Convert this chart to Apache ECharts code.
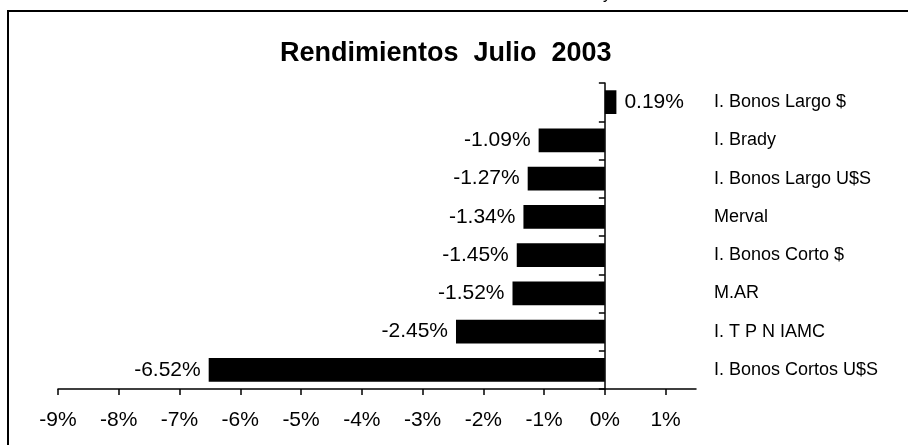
<!DOCTYPE html>
<html>
<head>
<meta charset="utf-8">
<script src="https://cdn.jsdelivr.net/npm/echarts@6/dist/echarts.min.js"></script>
<style>
  html, body { margin: 0; padding: 0; background: #fff; }
  #chart { width: 908px; height: 445px; }
</style>
</head>
<body>
<div id="chart"></div>
<script>
// datos, de arriba hacia abajo
const categories = ['I. Bonos Largo $', 'I. Brady', 'I. Bonos Largo U$S', 'Merval',
  'I. Bonos Corto $', 'M.AR', 'I. T P N IAMC', 'I. Bonos Cortos U$S']
const rendimientos = [0.19, -1.09, -1.27, -1.34, -1.45, -1.52, -2.45, -6.52]
const tickValues = [-9, -8, -7, -6, -5, -4, -3, -2, -1, 0, 1]

const chart = echarts.init(document.getElementById('chart'))

const option = {
  animation: false,
  backgroundColor: '#fff',
  title: {
    text: 'Rendimientos  Julio  2003',
    left: 275,
    top: 35,
    textStyle: {
      fontFamily: 'Liberation Sans',
      fontSize: 27,
      fontWeight: 'bold',
      color: '#000'
    }
  },
  graphic: [
    {
      // marco del grafico (sigue fuera de la imagen)
      type: 'rect',
      shape: { x: 8, y: 11, width: 1000, height: 1000 },
      style: { fill: 'none', stroke: '#000', lineWidth: 2 }
    },
    {
      // resto de un texto cortado arriba
      type: 'text',
      x: 603,
      y: -13,
      style: { text: 'y', font: '16px Liberation Sans', fill: '#000' }
    }
  ],
  grid: {
    left: 58,
    right: 212,
    top: 83,
    bottom: 56
  },
  xAxis: {
    type: 'value',
    min: -9,
    max: 1.5,
    interval: 1,
    splitLine: { show: false },
    axisLine: { show: true, lineStyle: { color: '#000', width: 1.5 } },
    axisTick: {
      show: true,
      length: 6,
      customValues: tickValues,
      lineStyle: { color: '#000', width: 1.5 }
    },
    axisLabel: {
      customValues: tickValues,
      margin: 21,
      fontFamily: 'Liberation Sans',
      fontSize: 21,
      color: '#000',
      formatter: v => v + '%'
    }
  },
  yAxis: {
    type: 'category',
    inverse: true,
    data: categories,
    axisLine: { show: true, onZero: true, lineStyle: { color: '#000', width: 1.5 } },
    axisTick: { show: true, length: 6, lineStyle: { color: '#000', width: 1.5 } },
    axisLabel: {
      inside: true,
      margin: 656,
      fontFamily: 'Liberation Sans',
      fontSize: 18,
      color: '#000'
    }
  },
  series: [{
    type: 'bar',
    barWidth: '62%',
    itemStyle: { color: '#000' },
    data: rendimientos.map(v => ({
      value: v,
      label: { position: v < 0 ? 'left' : 'right' }
    })),
    label: {
      show: true,
      distance: 8,
      fontFamily: 'Liberation Sans',
      fontSize: 21,
      color: '#000',
      formatter: p => p.value.toFixed(2) + '%'
    }
  }]
}

chart.setOption(option)
</script>
</body>
</html>
